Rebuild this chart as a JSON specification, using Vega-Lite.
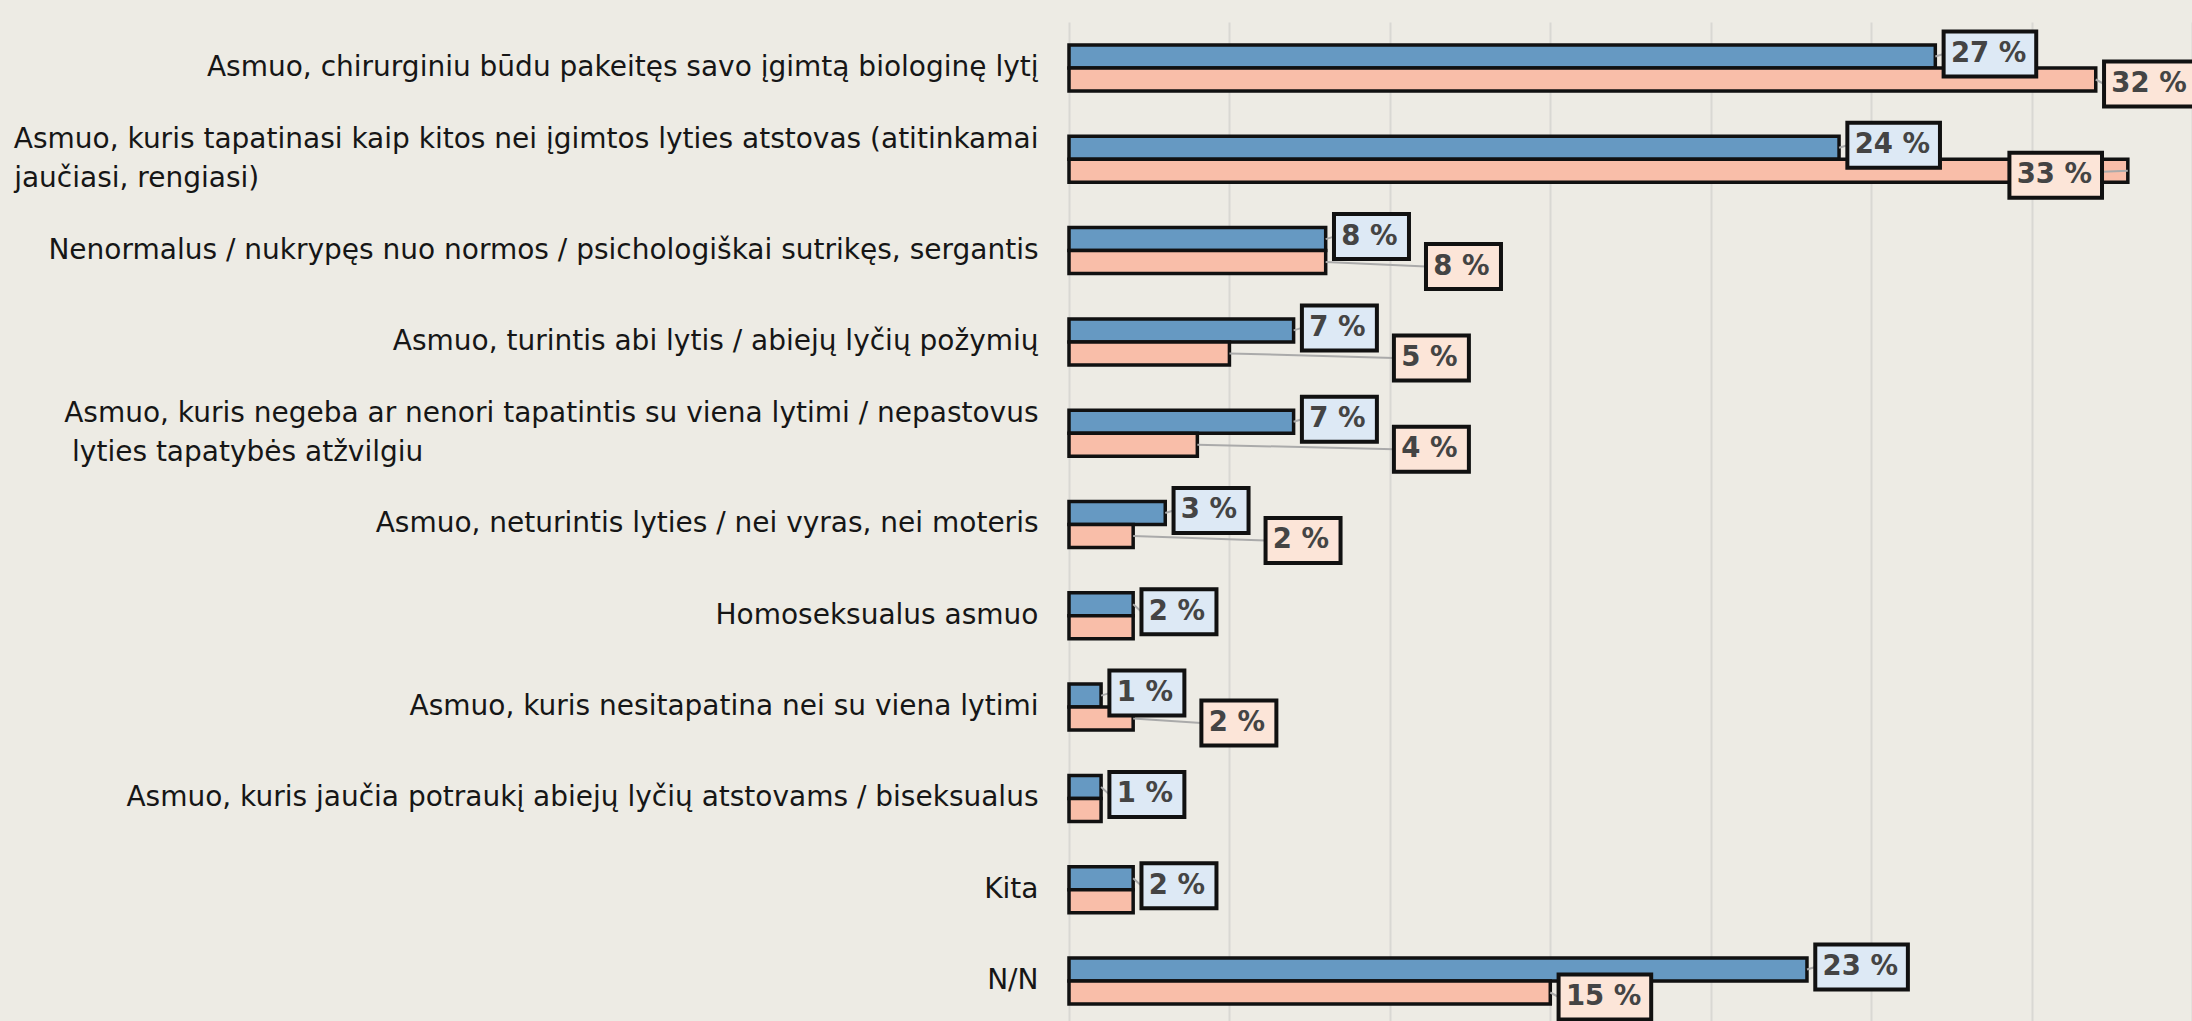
{
  "$schema": "https://vega.github.io/schema/vega-lite/v6.json",
  "autosize": {"type": "none"},
  "padding": {"left": 1069, "top": 22, "right": 0, "bottom": 0},
  "width": 1123,
  "height": 999,
  "background": "#edebe4",
  "config": {"view": {"stroke": null}},
  "data": {
    "values": [
      {"k": "Asmuo, chirurginiu būdu pakeitęs savo įgimtą biologinę lytį", "v1": 27, "v2": 32, "l1": "27 %", "l2": "32 %"},
      {"k": "Asmuo, kuris tapatinasi kaip kitos nei įgimtos lyties atstovas (atitinkamai\njaučiasi, rengiasi)", "v1": 24, "v2": 33, "l1": "24 %", "l2": "33 %"},
      {"k": "Nenormalus / nukrypęs nuo normos / psichologiškai sutrikęs, sergantis", "v1": 8, "v2": 8, "l1": "8 %", "l2": "8 %"},
      {"k": "Asmuo, turintis abi lytis / abiejų lyčių požymių", "v1": 7, "v2": 5, "l1": "7 %", "l2": "5 %"},
      {"k": "Asmuo, kuris negeba ar nenori tapatintis su viena lytimi / nepastovus\nlyties tapatybės atžvilgiu", "v1": 7, "v2": 4, "l1": "7 %", "l2": "4 %"},
      {"k": "Asmuo, neturintis lyties / nei vyras, nei moteris", "v1": 3, "v2": 2, "l1": "3 %", "l2": "2 %"},
      {"k": "Homoseksualus asmuo", "v1": 2, "v2": 2, "l1": "2 %", "l2": ""},
      {"k": "Asmuo, kuris nesitapatina nei su viena lytimi", "v1": 1, "v2": 2, "l1": "1 %", "l2": "2 %"},
      {"k": "Asmuo, kuris jaučia potraukį abiejų lyčių atstovams / biseksualus", "v1": 1, "v2": 1, "l1": "1 %", "l2": ""},
      {"k": "Kita", "v1": 2, "v2": 2, "l1": "2 %", "l2": ""},
      {"k": "N/N", "v1": 23, "v2": 15, "l1": "23 %", "l2": "15 %"}
    ]
  },
  "encoding": {
    "y": {
      "field": "k",
      "type": "nominal",
      "sort": null,
      "title": null,
      "scale": {"paddingInner": 0.496, "paddingOuter": 0.219, "align": 0.575},
      "axis": {
        "ticks": false,
        "domain": false,
        "grid": false,
        "labelPadding": 31,
        "labelFont": "DejaVu Sans",
        "labelFontSize": 28,
        "labelColor": "#161616",
        "labelLimit": 3000,
        "labelLineHeight": 39,
        "labelOffset": {"condition": {"test": "indexof(datum.value, '\\n') >= 0", "value": -19.5}, "value": 0},
        "labelExpr": "length(split(datum.label, '\\n')) > 1 ? [split(datum.label, '\\n')[0], pad(split(datum.label, '\\n')[1], round(0.469 * length(split(datum.label, '\\n')[1]) + 0.64 * length(split(datum.label, '\\n')[0])), '\\u2800', 'right')] : datum.label"
      }
    }
  },
  "layer": [
    {
      "transform": [{"fold": ["v1", "v2"], "as": ["series", "value"]}],
      "mark": {"type": "bar", "stroke": "#111111", "strokeWidth": 3.5},
      "encoding": {
        "x": {
          "field": "value",
          "type": "quantitative",
          "title": null,
          "scale": {"domain": [0, 35]},
          "axis": {"values": [0, 5, 10, 15, 20, 25, 30, 35], "grid": true, "labels": false, "ticks": false, "domain": false, "gridColor": "#d9d8d3", "gridWidth": 2}
        },
        "yOffset": {"field": "series", "type": "nominal", "scale": {"paddingInner": 0, "paddingOuter": 0}},
        "fill": {"field": "series", "type": "nominal", "scale": {"domain": ["v1", "v2"], "range": ["#6699c2", "#f9bea9"]}, "legend": null}
      }
    },
    {
      "mark": {"type": "rule", "color": "#aaaaaa", "strokeWidth": 2, "yOffset": -11.5, "y2Offset": {"expr": "datum.l2 == '' ? -4 : -14"}, "x2Offset": 8.3},
      "encoding": {
        "x": {"field": "v1", "type": "quantitative", "title": null},
        "x2": {"field": "v1"},
        "y2": {"field": "k"}
      }
    },
    {
      "transform": [{"filter": "datum.l2 != ''"}],
      "mark": {"type": "rule", "color": "#aaaaaa", "strokeWidth": 2, "yOffset": 11.5, "y2Offset": 16, "x2Offset": {"expr": "datum.v2 > datum.v1 + 6 ? min(8.3, 940.4 - scale('x', datum.v2)) : (datum.v2 > datum.v1 - 5 && datum.v2 < datum.v1 + 3) ? scale('x', datum.v1) - scale('x', datum.v2) + (length(datum.l1) > 3 ? 117.9 : 100.3) : 8.3"}},
      "encoding": {
        "x": {"field": "v2", "type": "quantitative", "title": null},
        "x2": {"field": "v2"},
        "y2": {"field": "k"}
      }
    },
    {
      "mark": {"type": "point", "filled": true, "size": 2025, "fill": "#dde9f5", "stroke": "#111111", "strokeWidth": 4, "opacity": 1, "fillOpacity": 1, "xOffset": 8.3, "yOffset": {"expr": "datum.l2 == '' ? -4 : -14"}},
      "encoding": {
        "x": {"field": "v1", "type": "quantitative", "title": null},
        "shape": {"condition": {"test": "length(datum.l1) > 3", "value": "M0,-1L4.116,-1L4.116,1L0,1Z"}, "value": "M0,-1L3.333,-1L3.333,1L0,1Z"}
      }
    },
    {
      "mark": {"type": "text", "align": "left", "baseline": "middle", "dx": 15.6, "yOffset": {"expr": "datum.l2 == '' ? -4 : -14"}, "font": "DejaVu Sans", "fontWeight": "bold", "fontSize": 27.5, "fill": "#444444"},
      "encoding": {
        "x": {"field": "v1", "type": "quantitative", "title": null},
        "text": {"field": "l1"}
      }
    },
    {
      "transform": [{"filter": "datum.l2 != ''"}],
      "mark": {"type": "point", "filled": true, "size": 2025, "fill": "#fce5d8", "stroke": "#111111", "strokeWidth": 4, "opacity": 1, "fillOpacity": 1, "yOffset": 16, "xOffset": {"expr": "datum.v2 > datum.v1 + 6 ? min(8.3, 940.4 - scale('x', datum.v2)) : (datum.v2 > datum.v1 - 5 && datum.v2 < datum.v1 + 3) ? scale('x', datum.v1) - scale('x', datum.v2) + (length(datum.l1) > 3 ? 117.9 : 100.3) : 8.3"}},
      "encoding": {
        "x": {"field": "v2", "type": "quantitative", "title": null},
        "shape": {"condition": {"test": "length(datum.l2) > 3", "value": "M0,-1L4.116,-1L4.116,1L0,1Z"}, "value": "M0,-1L3.333,-1L3.333,1L0,1Z"}
      }
    },
    {
      "transform": [{"filter": "datum.l2 != ''"}],
      "mark": {"type": "text", "align": "left", "baseline": "middle", "yOffset": 16, "dx": {"expr": "datum.v2 > datum.v1 + 6 ? min(15.6, 947.7 - scale('x', datum.v2)) : (datum.v2 > datum.v1 - 5 && datum.v2 < datum.v1 + 3) ? scale('x', datum.v1) - scale('x', datum.v2) + (length(datum.l1) > 3 ? 125.2 : 107.6) : 15.6"}, "font": "DejaVu Sans", "fontWeight": "bold", "fontSize": 27.5, "fill": "#444444"},
      "encoding": {
        "x": {"field": "v2", "type": "quantitative", "title": null},
        "text": {"field": "l2"}
      }
    }
  ]
}
